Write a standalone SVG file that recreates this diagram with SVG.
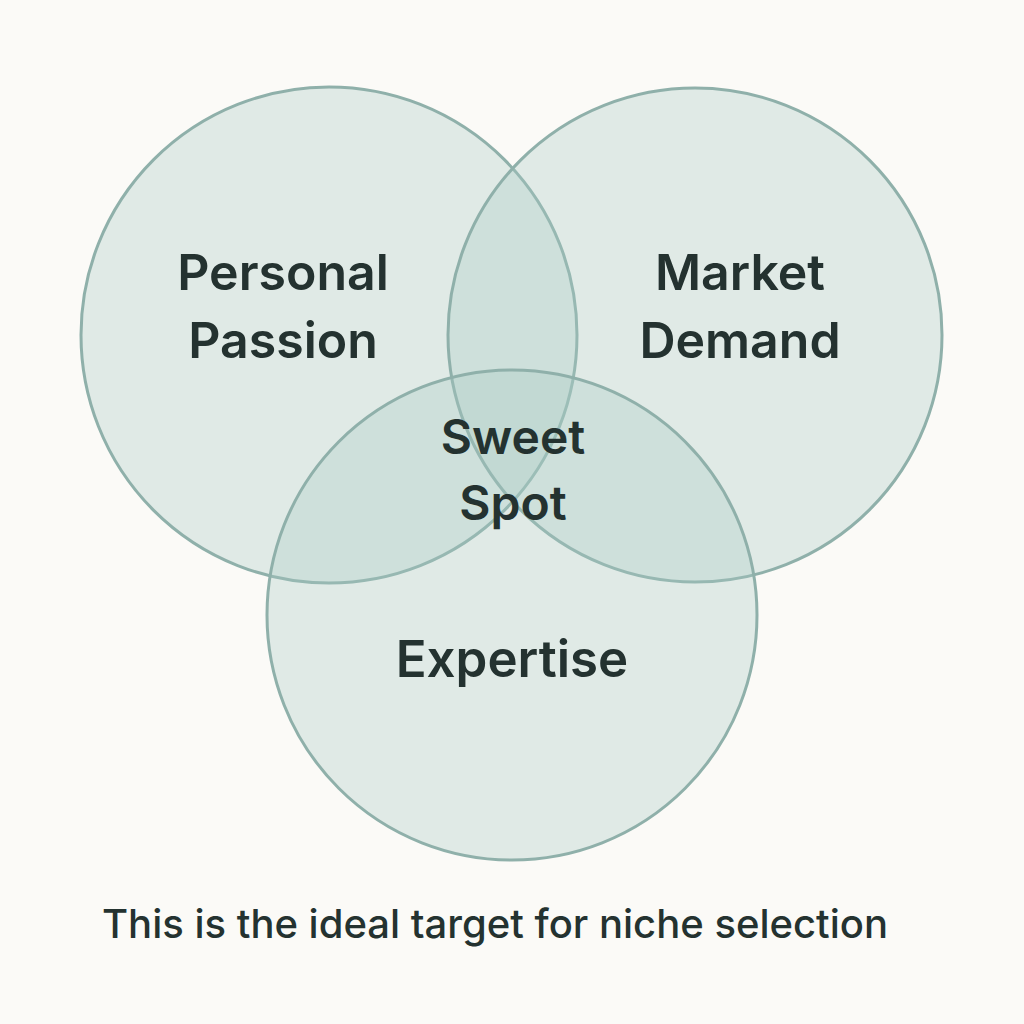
<svg xmlns="http://www.w3.org/2000/svg" width="1024" height="1024" viewBox="0 0 1024 1024">
<style>
.c{fill:#a9c9c3;fill-opacity:0.32;stroke:#8fb0aa;stroke-width:3}
.t{font-family:Inter,"Liberation Sans",sans-serif;font-weight:600;fill:#243230;text-anchor:middle}
</style>
<rect width="1024" height="1024" fill="#fbfaf7"/>
<g id="passion"><circle class="c" cx="329" cy="335" r="248"/>
<text class="t" font-size="50"><tspan x="283" y="290">Personal</tspan><tspan x="283" y="358">Passion</tspan></text></g>
<g id="market"><circle class="c" cx="695" cy="335" r="247"/>
<text class="t" font-size="50"><tspan x="740" y="290">Market</tspan><tspan x="740" y="358">Demand</tspan></text></g>
<g id="expertise"><circle class="c" cx="512" cy="615" r="245"/>
<text class="t" font-size="51" x="512" y="677">Expertise</text></g>
<g id="sweet"><text class="t" font-size="48"><tspan x="513" y="454">Sweet</tspan><tspan x="513" y="520">Spot</tspan></text></g>
<g id="connectors"/>
<text font-family="Inter,'Liberation Sans',sans-serif" font-weight="500" font-size="40" fill="#243230" x="495" y="938" text-anchor="middle">This is the ideal target for niche selection</text>
</svg>
